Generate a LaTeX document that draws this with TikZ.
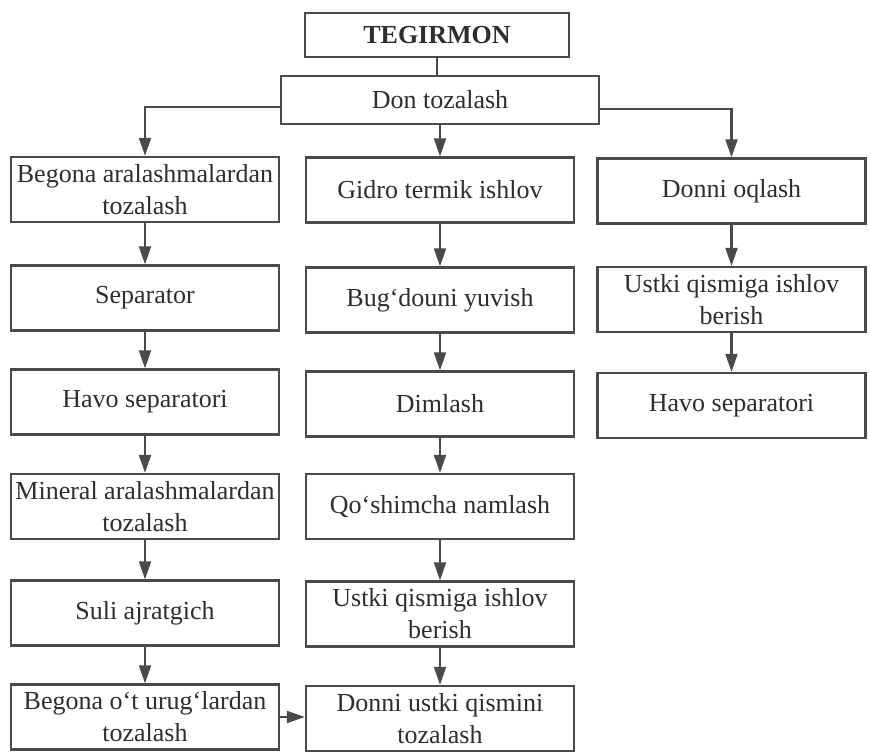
\documentclass[tikz,border=0pt]{standalone}
\usepackage{fontspec}
\setmainfont{Liberation Serif}
\usetikzlibrary{arrows.meta}
\definecolor{ink}{HTML}{4A4A4A}
\definecolor{txt}{HTML}{2E2E2E}
\begin{document}
\begin{tikzpicture}[x=1pt,y=-1pt,
  box/.style={draw=ink,line width=2.3pt,minimum width=268pt,minimum height=65pt,
    inner sep=0pt,align=center,text=txt,font=\fontsize{26}{32}\selectfont},
  arr/.style={draw=ink,line width=2.1pt,-{Triangle[length=18pt,width=12pt]}},
  ln/.style={draw=ink,line width=2.1pt}]
\useasboundingbox (0,0) rectangle (870,752);
\fill[white] (0,0) rectangle (870,752);
% top
\node[box,minimum width=264pt,minimum height=44pt,font=\fontsize{26}{32}\selectfont\bfseries] (teg) at (437,35) {TEGIRMON};
\node[box,minimum width=318pt,minimum height=48pt] (dt) at (440,100) {Don tozalash};
% left column
\node[box] (l1) at (145,189.5) {Begona aralashmalardan\\tozalash};
\node[box] (l2) at (145,298) {Separator};
\node[box] (l3) at (145,402) {Havo separatori};
\node[box] (l4) at (145,506.5) {Mineral aralashmalardan\\tozalash};
\node[box] (l5) at (145,613) {Suli ajratgich};
\node[box] (l6) at (145,717) {Begona o‘t urug‘lardan\\tozalash};
% middle column
\node[box] (m1) at (440,190) {Gidro termik ishlov};
\node[box] (m2) at (440,300) {Bug‘douni yuvish};
\node[box] (m3) at (440,404) {Dimlash};
\node[box] (m4) at (440,506.5) {Qo‘shimcha namlash};
\node[box] (m5) at (440,614) {Ustki qismiga ishlov\\berish};
\node[box] (m6) at (440,718.5) {Donni ustki qismini\\tozalash};
% right column
\node[box] (r1) at (731.5,191) {Donni oqlash};
\node[box] (r2) at (731.5,299.5) {Ustki qismiga ishlov\\berish};
\node[box] (r3) at (731.5,405.5) {Havo separatori};
% connectors
\draw[ln] (teg.south) -- (teg.south |- dt.north);
\draw[arr] ([yshift=-7pt]dt.west) -| (l1.north);
\draw[arr] (dt.south) -- (dt.south |- m1.north);
\draw[arr] ([yshift=-9pt]dt.east) -| (r1.north);
\foreach \a/\b in {l1/l2,l2/l3,l3/l4,l4/l5,l5/l6,m1/m2,m2/m3,m3/m4,m4/m5,m5/m6,r1/r2,r2/r3}
  \draw[arr] (\a.south) -- (\a.south |- \b.north);
\draw[arr] (l6.east) -- (l6.east -| m6.west);
\end{tikzpicture}
\end{document}
